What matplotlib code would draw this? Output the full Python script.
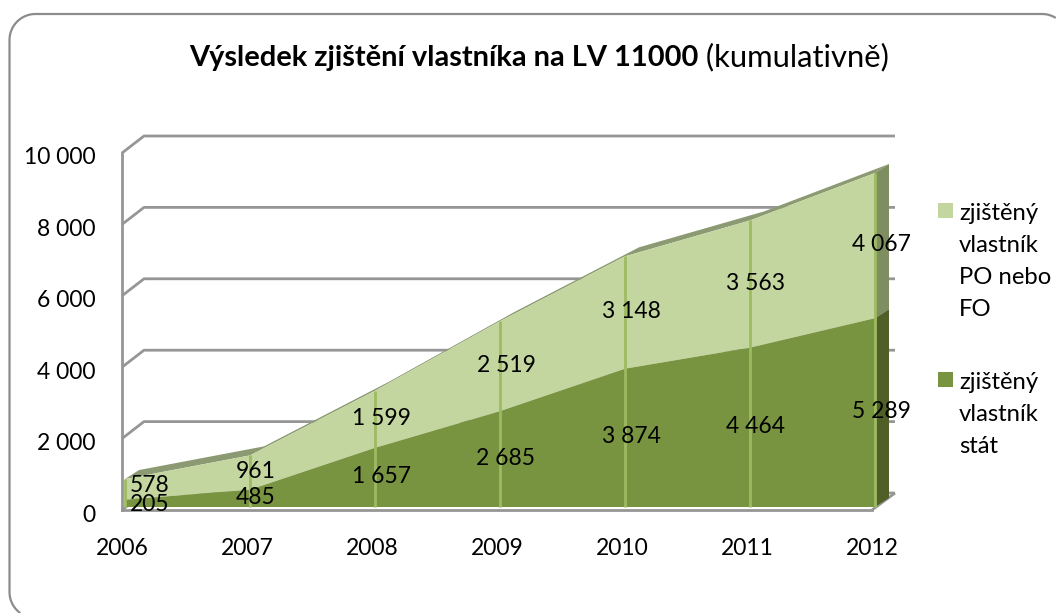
import numpy as np
import matplotlib
matplotlib.use('Agg')
import matplotlib.pyplot as plt
from matplotlib.patches import Polygon, Rectangle
from matplotlib.transforms import Affine2D, IdentityTransform

years = [2006, 2007, 2008, 2009, 2010, 2011, 2012]
stat = [205, 485, 1657, 2685, 3874, 4464, 5289]
po_fo = [578, 961, 1599, 2519, 3148, 3563, 4067]
y_ticks = [0, 2000, 4000, 6000, 8000, 10000]
legend_po = 'zjištěný\nvlastník\nPO nebo\nFO'
legend_stat = 'zjištěný\nvlastník\nstát'

W, H = 1056, 613
FS = 16.5
plt.rcParams['font.family'] = ['Lato', 'DejaVu Sans']
fig = plt.figure(figsize=(W / 100, H / 100), dpi=100)


def arc(cx, cy, r, a0, a1):
    t = np.radians(np.linspace(a0, a1, 40))
    return np.column_stack([cx + r * np.cos(t), H - cy + r * np.sin(t)])


# frame runs off the picture on the right and at the bottom, so draw only what shows
frame_pts = np.vstack([arc(35.5, 592, 26, 234, 180), arc(35.5, 40, 26, 180, 90), arc(1042, 40, 26, 90, 58)])
fig.patches.append(Polygon(frame_pts, closed=False, transform=IdentityTransform(), fc='none',
                           ec='#8c8c8c', lw=1.6))

# front plane of the fake 3d box, in pixels
ax = fig.add_axes([122 / W, 1 - 510 / H, 750 / W, 357 / H])
ax.set_xlim(2006, 2012)
ax.set_ylim(0, 10000)
ax.patch.set_alpha(0)
for s in ['top', 'right']:
    ax.spines[s].set_visible(False)
for s in ['left', 'bottom']:
    ax.spines[s].set_color('#969696')
    ax.spines[s].set_linewidth(2)
    ax.spines[s].set_zorder(6)
ax.set_xticks(years)
ax.set_yticks(y_ticks)
ax.set_yticklabels([f'{v:,}'.replace(',', ' ') for v in y_ticks])
ax.tick_params(length=0, labelsize=FS, colors='black')
ax.tick_params(axis='x', pad=20)
ax.tick_params(axis='y', pad=19)
for t in ax.get_yticklabels():
    t.set_transform(t.get_transform() + Affine2D().translate(0, -3))


def px(x, y, dx=0, dy=0):
    pts = ax.transData.transform(np.column_stack([x, y]))
    return pts + [dx, dy]


def poly(pts, color, z):
    ax.add_patch(Polygon(pts, closed=True, fc=color, ec='none', transform=IdentityTransform(),
                         clip_on=False, zorder=z))


def line(pts, color, lw, z):
    ax.plot(pts[:, 0], pts[:, 1], color=color, lw=lw, transform=IdentityTransform(),
            clip_on=False, zorder=z, solid_capstyle='butt')


# grid on the back wall and the slants on the left wall
for v in y_ticks:
    a = px([2006], [v])[0]
    b = px([2006], [v], 22, 17)[0]
    c = px([2012], [v], 23, 17)[0]
    line(np.array([a, b, c]), '#969696', 2, 1)
corner = px([2012], [0])[0]
line(np.array([corner, corner + [23, 17]]), '#969696', 2, 1)

x = np.array(years, dtype=float)
low = np.array(stat, dtype=float)
top = low + np.array(po_fo)
zero = np.zeros(len(x))
FRONT = (3, 3)
BACK = (17, 12)

# top surface and right side of the areas
poly(np.vstack([px(x, top, *FRONT), px(x, top, *BACK)[::-1]]), '#8b9a72', 2)
r = [x[-1]]
poly(np.vstack([px(r, [top[-1]], *FRONT), px(r, [top[-1]], *BACK),
                px(r, [low[-1]], *BACK), px(r, [low[-1]], *FRONT)]), '#7f8e60', 2)
poly(np.vstack([px(r, [low[-1]], *FRONT), px(r, [low[-1]], *BACK),
                px(r, [0], *BACK), px(r, [0], *FRONT)]), '#505f28', 2)

# front faces
poly(np.vstack([px(x, low, *FRONT), px(x, top, *FRONT)[::-1]]), '#c4d6a0', 3)
poly(np.vstack([px(x, zero, *FRONT), px(x, low, *FRONT)[::-1]]), '#789440', 3)
for i in range(len(x)):
    pts = np.vstack([px([x[i]], [top[i]], *FRONT), px([x[i]], [0], *FRONT)])
    line(pts, '#9dbb61', 2, 4)

# data labels
for i in range(len(x)):
    shift = 28 if i == 0 else 9
    for val, base, extra in [(stat[i], 0, 2 if i == 0 else 4), (po_fo[i], stat[i], 7 if i == 0 else 4)]:
        ax.annotate(f'{val:,}'.replace(',', ' '), (x[i], base + val / 2), xytext=(shift, extra),
                    textcoords='offset pixels', ha='center', va='center', fontsize=FS,
                    annotation_clip=False, zorder=7)

# title, two weights
title = fig.text(189 / W, 1 - 58 / H, 'Výsledek zjištění vlastníka na LV 11000', fontsize=20.9,
                 fontweight='bold', ha='left', va='center')
ax.annotate(' (kumulativně)', xy=(1, 0), xycoords=title, xytext=(0, 0), textcoords='offset pixels',
            ha='left', va='bottom', fontsize=22.3, annotation_clip=False)

# legend
for y0, txt, col in [(203, legend_po, '#c4d6a0'), (372, legend_stat, '#789440')]:
    fig.patches.append(Rectangle((938, H - y0 - 15), 15, 15, transform=IdentityTransform(), fc=col, ec='none'))
    fig.text(959 / W, 1 - y0 / H, txt, fontsize=17.2, ha='left', va='top', linespacing=1.64)

fig.savefig('out.png', dpi=100)
